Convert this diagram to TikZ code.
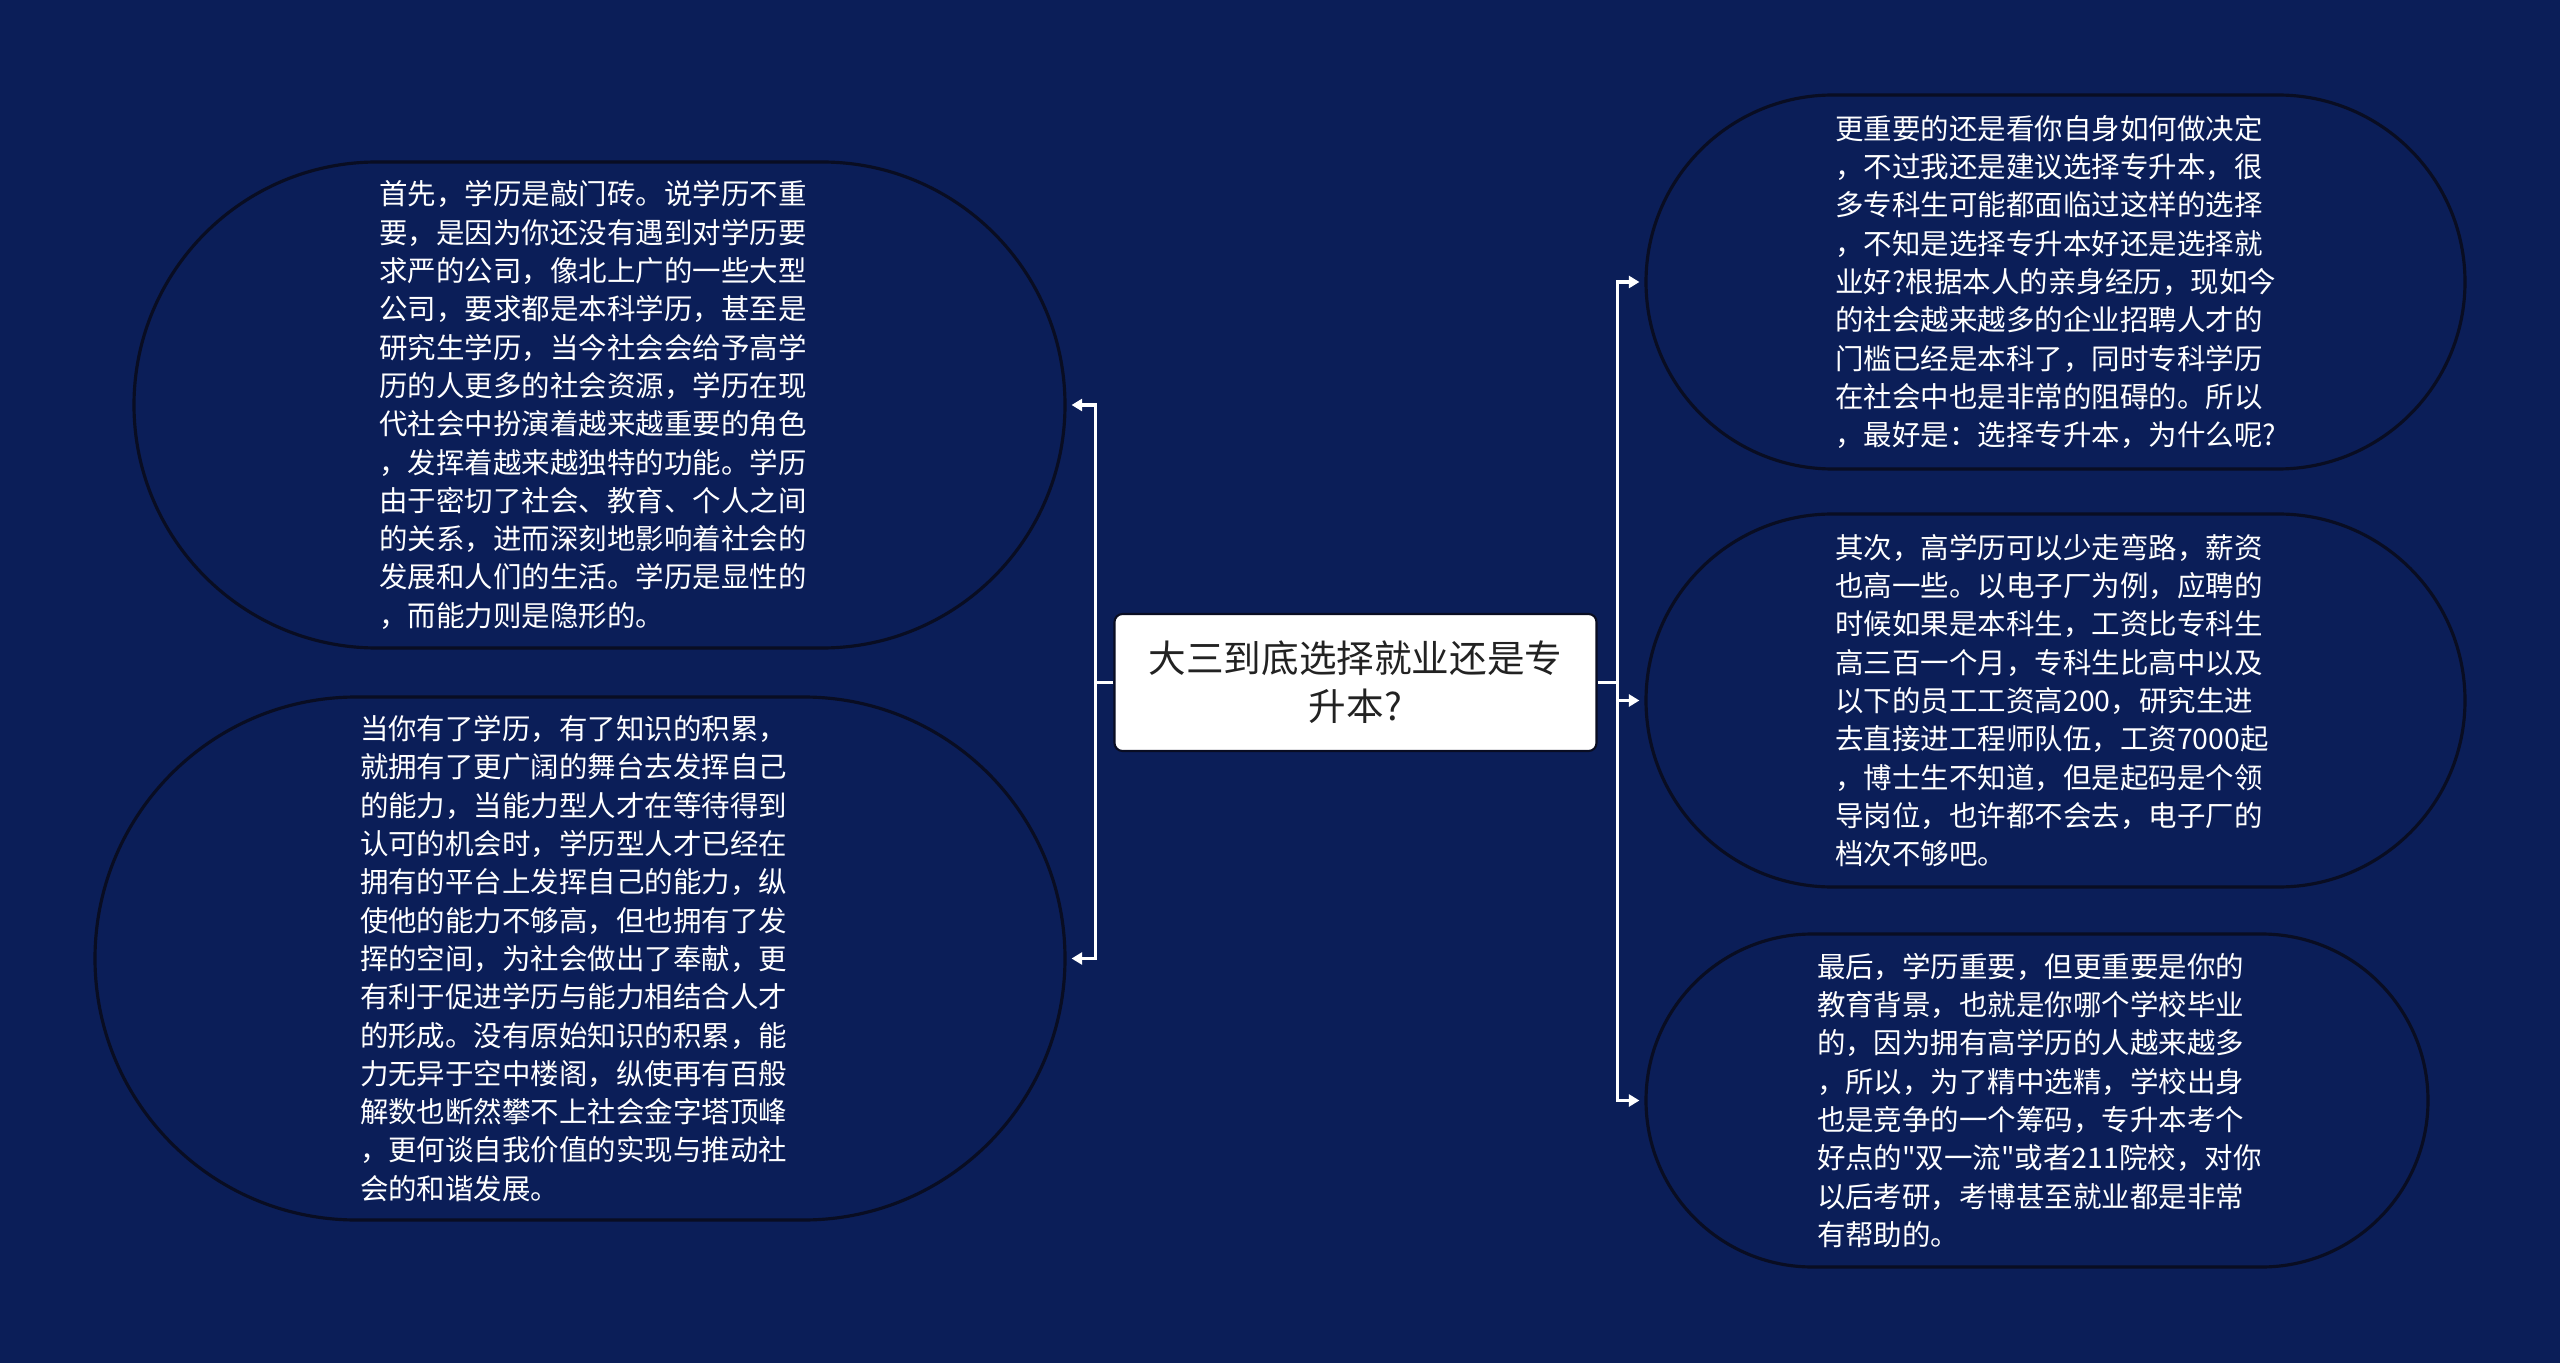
\documentclass[tikz,border=0pt]{standalone}
\usepackage{fontspec}
\setmainfont{Noto Sans CJK SC}[Ligatures=TeXOff]
\usetikzlibrary{shapes.misc,arrows.meta}
\definecolor{bgblue}{RGB}{11,30,88}
\definecolor{rimdark}{RGB}{9,13,34}
\definecolor{topictext}{RGB}{34,34,34}

\begin{document}
\begin{tikzpicture}[
		leaf/.style={rounded rectangle, draw=rimdark, line width=0.9pt, fill=bgblue, text=white, align=left, text width=4.4cm, inner sep=0pt, font=\fontsize{8.1pt}{10.9pt}\selectfont},
		branch/.style={white, line width=0.9pt},
		arrowhead/.style={-{Triangle[length=3pt,width=3.4pt]}, shorten >=0.5mm}]
		\fill[bgblue] (0,0) rectangle (25.6,-13.63);
		\node[draw=rimdark, line width=0.6pt, fill=white, rounded corners=0.08cm, minimum width=4.82cm, minimum height=1.37cm, text=topictext, align=center, text width=4.5cm, font=\fontsize{10.7pt}{13.7pt}\selectfont] (topic) at (13.555,-6.825) {大三到底选择就业还是专\\升本?};
		\node[leaf, minimum width=9.31cm, minimum height=4.86cm] (degree) at (5.995,-4.05) {首先，学历是敲门砖。说学历不重\\要，是因为你还没有遇到对学历要\\求严的公司，像北上广的一些大型\\公司，要求都是本科学历，甚至是\\研究生学历，当今社会会给予高学\\历的人更多的社会资源，学历在现\\代社会中扮演着越来越重要的角色\\，发挥着越来越独特的功能。学历\\由于密切了社会、教育、个人之间\\的关系，进而深刻地影响着社会的\\发展和人们的生活。学历是显性的\\，而能力则是隐形的。};
		\node[leaf, minimum width=9.70cm, minimum height=5.23cm] (platform) at (5.80,-9.585) {当你有了学历，有了知识的积累，\\就拥有了更广阔的舞台去发挥自己\\的能力，当能力型人才在等待得到\\认可的机会时，学历型人才已经在\\拥有的平台上发挥自己的能力，纵\\使他的能力不够高，但也拥有了发\\挥的空间，为社会做出了奉献，更\\有利于促进学历与能力相结合人才\\的形成。没有原始知识的积累，能\\力无异于空中楼阁，纵使再有百般\\解数也断然攀不上社会金字塔顶峰\\，更何谈自我价值的实现与推动社\\会的和谐发展。};
		\node[leaf, minimum width=8.19cm, minimum height=3.74cm] (decide) at (20.555,-2.82) {更重要的还是看你自身如何做决定\\，不过我还是建议选择专升本，很\\多专科生可能都面临过这样的选择\\，不知是选择专升本好还是选择就\\业好?根据本人的亲身经历，现如今\\的社会越来越多的企业招聘人才的\\门槛已经是本科了，同时专科学历\\在社会中也是非常的阻碍的。所以\\，最好是：选择专升本，为什么呢?};
		\node[leaf, minimum width=8.19cm, minimum height=3.73cm] (salary) at (20.555,-7.005) {其次，高学历可以少走弯路，薪资\\也高一些。以电子厂为例，应聘的\\时候如果是本科生，工资比专科生\\高三百一个月，专科生比高中以及\\以下的员工工资高200，研究生进\\去直接进工程师队伍，工资7000起\\，博士生不知道，但是起码是个领\\导岗位，也许都不会去，电子厂的\\档次不够吧。};
		\node[leaf, minimum width=7.82cm, minimum height=3.33cm] (school) at (20.37,-11.005) {最后，学历重要，但更重要是你的\\教育背景，也就是你哪个学校毕业\\的，因为拥有高学历的人越来越多\\，所以，为了精中选精，学校出身\\也是竞争的一个筹码，专升本考个\\好点的"双一流"或者211院校，对你\\以后考研，考博甚至就业都是非常\\有帮助的。};
		\coordinate (lj) at ([xshift=-0.18cm]topic.west);
		\coordinate (rj) at ([xshift=0.2cm]topic.east);
		\draw[branch] (topic.west) -- (lj);
		\draw[branch] (topic.east) -- (rj);
		\draw[branch, arrowhead] (lj) |- (degree);
		\draw[branch, arrowhead] (lj) |- (platform);
		\draw[branch, arrowhead] (rj) |- (decide);
		\draw[branch, arrowhead] (rj) |- (salary);
		\draw[branch, arrowhead] (rj) |- (school);
\end{tikzpicture}
\end{document}
